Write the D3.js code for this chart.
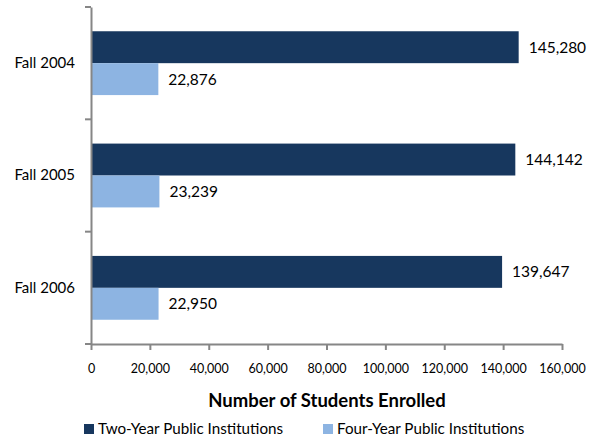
<!DOCTYPE html>
<html>
<head>
<meta charset="utf-8">
<script src="https://cdn.jsdelivr.net/npm/d3@7"></script>
<style>
  body { margin: 0; background: #fff; }
  text { font-family: Lato, "Open Sans", sans-serif; fill: #000; }
</style>
</head>
<body>
<div id="chart"></div>
<script>
// data
var years = ["Fall 2004", "Fall 2005", "Fall 2006"];
var seriesNames = ["Two-Year Public Institutions", "Four-Year Public Institutions"];
var twoYear = [145280, 144142, 139647];
var fourYear = [22876, 23239, 22950];
var xTicks = [0, 20000, 40000, 60000, 80000, 100000, 120000, 140000, 160000];
var colors = ["#17375E", "#8DB4E2"];

var width = 601, height = 439;
var margin = {top: 7, right: 39, bottom: 95, left: 91};

var svg = d3.select("#chart")
  .append("svg")
    .attr("width", width)
    .attr("height", height);

var x = d3.scaleLinear()
    .domain([0, 160000])
    .range([margin.left, width - margin.right]);

var y0 = d3.scaleBand()
    .domain(years)
    .range([margin.top, height - margin.bottom]);

var y1 = d3.scaleBand()
    .domain(seriesNames)
    .range([0, y0.bandwidth()])
    .paddingOuter(0.76);

var rows = years.map(function(d, i) {
  return {year: d, values: [
    {name: seriesNames[0], value: twoYear[i]},
    {name: seriesNames[1], value: fourYear[i]}
  ]};
});

// bars
var groups = svg.append("g").selectAll("g")
  .data(rows)
  .enter().append("g")
    .attr("transform", function(d) { return "translate(0," + y0(d.year) + ")"; });

groups.selectAll("rect")
  .data(function(d) { return d.values; })
  .enter().append("rect")
    .attr("x", x(0))
    .attr("y", function(d) { return y1(d.name); })
    .attr("width", function(d) { return x(d.value) - x(0); })
    .attr("height", y1.bandwidth())
    .style("fill", function(d, i) { return colors[i]; });

groups.selectAll("text.val")
  .data(function(d) { return d.values; })
  .enter().append("text")
    .attr("class", "val")
    .attr("x", function(d) { return x(d.value) + 10; })
    .attr("y", function(d) { return y1(d.name) + y1.bandwidth() / 2; })
    .attr("dy", "0.36em")
    .style("font-size", "15.5px")
    .text(function(d) { return d3.format(",")(d.value); });

// x axis
var xAxis = svg.append("g")
    .attr("transform", "translate(0," + (height - margin.bottom) + ")")
    .call(d3.axisBottom(x).tickValues(xTicks).tickFormat(d3.format(",")).tickSizeInner(6).tickSizeOuter(0).tickPadding(14));
xAxis.select(".domain").attr("stroke", "#868686").attr("stroke-width", 2);
xAxis.selectAll(".tick line").attr("stroke", "#868686").attr("stroke-width", 2);
xAxis.selectAll("text").style("font-size", "12.5px").style("font-family", "Lato, sans-serif").attr("fill", "#000");

// y axis
var yAxis = svg.append("g")
    .attr("transform", "translate(" + margin.left + ",0)")
    .call(d3.axisLeft(y0).tickSize(0).tickPadding(16));
yAxis.select(".domain").attr("stroke", "#868686").attr("stroke-width", 2);
yAxis.selectAll("text").style("font-size", "15px").style("font-family", "Lato, sans-serif").attr("fill", "#000");

var bounds = years.map(function(d) { return y0(d); }).concat([y0.range()[1]]);
yAxis.selectAll("line.bound")
  .data(bounds)
  .enter().append("line")
    .attr("class", "bound")
    .attr("x1", -6).attr("x2", 0)
    .attr("y1", function(d) { return d; })
    .attr("y2", function(d) { return d; })
    .attr("stroke", "#868686")
    .attr("stroke-width", 2);

// axis title
svg.append("text")
    .attr("text-anchor", "middle")
    .attr("x", 327)
    .attr("y", 407)
    .style("font-size", "18.5px")
    .style("font-weight", "bold")
    .text("Number of Students Enrolled");

// legend
var legendX = [84, 323];
var legend = svg.append("g").selectAll("g")
  .data(seriesNames)
  .enter().append("g")
    .attr("transform", function(d, i) { return "translate(" + legendX[i] + ",424)"; });

legend.append("rect")
    .attr("width", 10)
    .attr("height", 10)
    .style("fill", function(d, i) { return colors[i]; });

legend.append("text")
    .attr("x", 14)
    .attr("y", 5)
    .attr("dy", "0.36em")
    .style("font-size", "15.2px")
    .text(function(d) { return d; });
</script>
</body>
</html>
